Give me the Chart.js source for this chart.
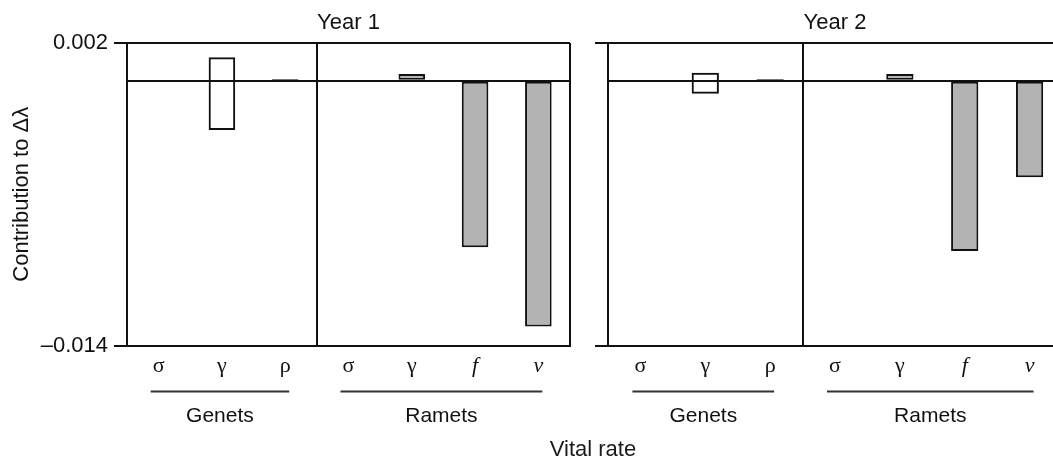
<!DOCTYPE html>
<html>
<head>
<meta charset="utf-8">
<script src="https://cdn.jsdelivr.net/npm/chart.js@4"></script>
<style>
  body { margin: 0; width: 1053px; height: 460px; overflow: hidden; background: #fff; position: relative; }
  .panel { position: absolute; top: 0; height: 460px; }
  #panel1 { left: 0; width: 580px; }
  #panel2 { left: 580px; width: 500px; }
  #xTitle { position: absolute; left: 493px; width: 200px; top: 436px; height: 26px; line-height: 26px;
            text-align: center; font: 22px "Liberation Sans", Arial, sans-serif; color: #1a1a1a; }
</style>
</head>
<body>
<div class="panel" id="panel1"><canvas id="chart1"></canvas></div>
<div class="panel" id="panel2"><canvas id="chart2"></canvas></div>
<div id="xTitle">Vital rate</div>
<script>
// vital rates on the x axis and the group each one belongs to
const rates = ['σ', 'γ', 'ρ', 'σ', 'γ', 'f', 'v'];
const rateGroups = ['Genets', 'Genets', 'Genets', 'Ramets', 'Ramets', 'Ramets', 'Ramets'];
const groupNames = ['Genets', 'Ramets'];
const italicRates = ['f', 'v'];

// contributions to delta lambda (a pair is a bar going from low to high)
const year1Values = [0, [-0.0026, 0.00124], 0.0001, 0, 0.00036, -0.0088, -0.0130];
const year2Values = [0, [-0.00068, 0.00043], 0.0001, 0, 0.00036, -0.0090, -0.0051];

// y axis ticks
const yTickValues = [-0.014, 0, 0.002];
const yTickLabels = ['\u20130.014', '', '0.002'];

const ink = '#111';
const sans = '"Liberation Sans", Arial, sans-serif';
const serif = '"Liberation Serif", "Times New Roman", serif';

// draws the line under each group of rates and its name
const groupPlugin = {
    id: 'groupLabels',
    afterDraw(chart) {
        const ctx = chart.ctx;
        const xScale = chart.scales.x;
        const bottom = chart.chartArea.bottom;
        groupNames.forEach(name => {
            const idx = [];
            rateGroups.forEach((g, i) => { if (g === name) idx.push(i); });
            const x1 = xScale.getPixelForValue(idx[0]) - 8;
            const x2 = xScale.getPixelForValue(idx[idx.length - 1]) + 4;
            ctx.save();
            ctx.strokeStyle = '#333';
            ctx.lineWidth = 2;
            ctx.beginPath();
            ctx.moveTo(x1, bottom + 46);
            ctx.lineTo(x2, bottom + 46);
            ctx.stroke();
            ctx.fillStyle = ink;
            ctx.font = '21px ' + sans;
            ctx.textAlign = 'center';
            ctx.textBaseline = 'alphabetic';
            ctx.fillText(name, (x1 + x2) / 2, bottom + 76);
            ctx.restore();
        });
    }
};

function makePanel(canvasId, title, values, showYLabels, yAxisWidth, rightPad) {
    const ctx = document.getElementById(canvasId);
    return new Chart(ctx, {
        type: 'bar',
        data: {
            labels: rates,
            datasets: [{
                data: values,
                backgroundColor: rateGroups.map(g => g === 'Genets' ? 'rgba(255,255,255,0)' : '#b3b3b3'),
                borderColor: '#111',
                borderWidth: 2,
                borderSkipped: false,
                barPercentage: 0.42,
                categoryPercentage: 1
            }]
        },
        options: {
            responsive: true,
            maintainAspectRatio: false,
            animation: false,
            devicePixelRatio: 1,
            layout: { padding: { left: 0, right: rightPad, top: 0, bottom: 0 } },
            plugins: {
                legend: { display: false },
                tooltip: { enabled: false },
                title: {
                    display: true,
                    text: title,
                    fullSize: false,
                    color: ink,
                    font: { family: sans, size: 22, weight: 'normal' },
                    padding: { top: 10, bottom: 6.6 }
                }
            },
            scales: {
                x: {
                    afterFit: scale => { scale.height = 114.5; },
                    ticks: {
                        color: ink,
                        padding: 8,
                        autoSkip: false,
                        maxRotation: 0,
                        font: c => ({
                            family: serif,
                            size: 22,
                            style: italicRates.includes(rates[c.index]) ? 'italic' : 'normal'
                        })
                    },
                    grid: {
                        drawTicks: false,
                        lineWidth: 2,
                        color: c => (c.index === 3 || c.type === 'scale') ? '#111' : 'rgba(0,0,0,0)'
                    },
                    border: { color: '#111', width: 2 }
                },
                y: {
                    min: -0.014,
                    max: 0.002,
                    afterBuildTicks: scale => { scale.ticks = yTickValues.map(v => ({ value: v })); },
                    afterFit: scale => { scale.width = yAxisWidth; },
                    ticks: {
                        color: ink,
                        padding: 6,
                        font: { family: sans, size: 22 },
                        callback: (value, index) => showYLabels ? yTickLabels[index] : ''
                    },
                    grid: {
                        color: '#111',
                        lineWidth: 2,
                        tickLength: 13,
                        tickColor: c => (c.tick && c.tick.value === 0) ? 'rgba(0,0,0,0)' : '#111'
                    },
                    border: { color: '#111', width: 2 },
                    title: {
                        display: showYLabels,
                        text: 'Contribution to \u0394\u03bb',
                        color: ink,
                        font: { family: sans, size: 22 },
                        padding: { top: 9, bottom: 0 }
                    }
                }
            }
        },
        plugins: [groupPlugin]
    });
}

makePanel('chart1', 'Year 1', year1Values, true, 127, 10);
makePanel('chart2', 'Year 2', year2Values, false, 28, 18);
</script>
</body>
</html>
